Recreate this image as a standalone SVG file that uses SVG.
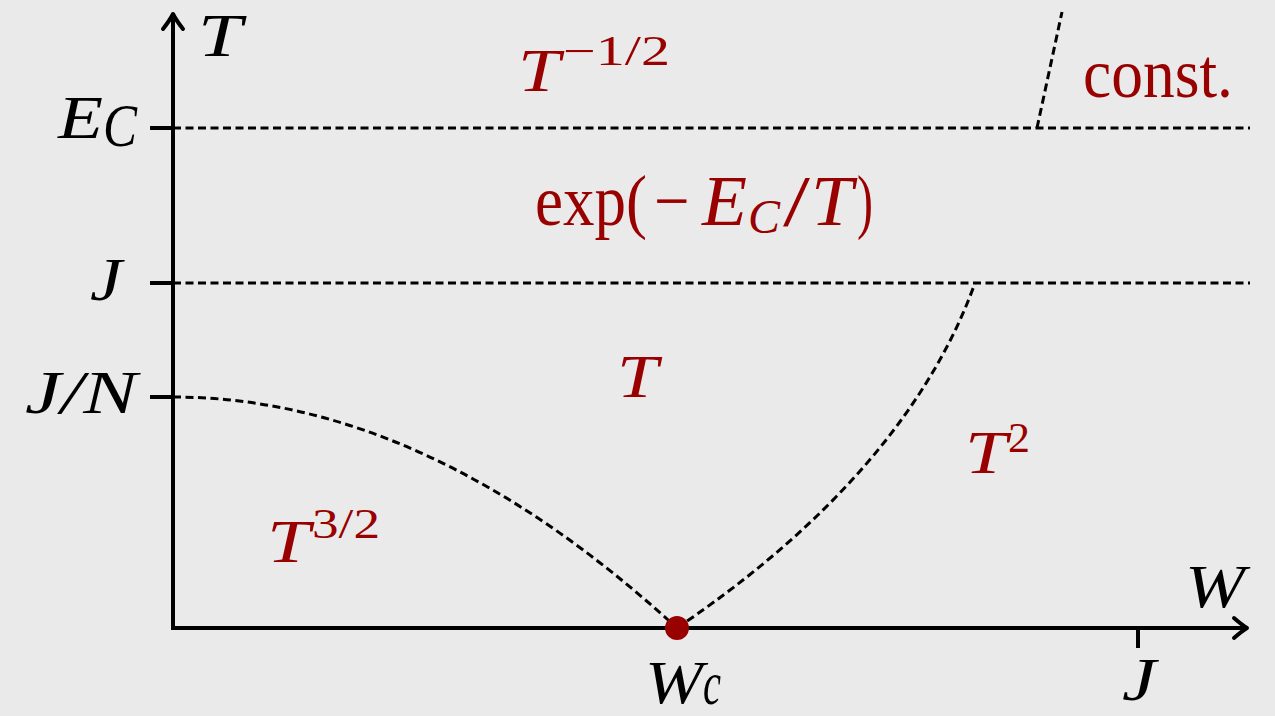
<svg xmlns="http://www.w3.org/2000/svg" width="1275" height="716" viewBox="0 0 1275 716">
<style>
.bg{fill:#eaeaea}
.axis{stroke:#000;stroke-width:4;fill:none}
.tip{stroke:#000;stroke-width:4;fill:none;stroke-linecap:round;stroke-linejoin:round}
.dash{stroke:#000;stroke-width:3;fill:none;stroke-dasharray:8 4.5}
.m{font-family:"Liberation Serif","Times New Roman",serif;font-style:italic;fill:#000;font-size:62px}
.r{font-family:"Liberation Serif","Times New Roman",serif;fill:#990000}
.it{font-style:italic}
.up{font-style:normal}
</style>
<rect class="bg" x="0" y="0" width="1275" height="716"/>
<g id="axes">
<line class="axis" x1="173" y1="630" x2="173" y2="16"/>
<path class="tip" d="M163,29 Q170,20 173,14 Q176,20 183,29"/>
<line class="axis" x1="171" y1="628" x2="1245" y2="628"/>
<path class="tip" d="M1234,618 Q1242,625 1247,628 Q1242,631 1234,638"/>
<line class="axis" x1="150" y1="128" x2="173" y2="128"/>
<line class="axis" x1="150" y1="283" x2="173" y2="283"/>
<line class="axis" x1="150" y1="397" x2="173" y2="397"/>
<line class="axis" x1="1138" y1="628" x2="1138" y2="648"/>
</g>
<g id="connectors">
<line class="dash" x1="173" y1="128" x2="1250" y2="128"/>
<line class="dash" x1="173" y1="283" x2="1250" y2="283"/>
<line class="dash" x1="1037" y1="128" x2="1062" y2="12"/>
<path class="dash" d="M173,397 Q425,397 677,628"/>
<path class="dash" d="M677,628 C770,565 915,450 975,283"/>
</g>
<g id="critical-point">
<circle cx="677" cy="628" r="12" fill="#990000"/>
</g>
<g id="axis-labels">
<text class="m" x="198" y="56" textLength="44" lengthAdjust="spacingAndGlyphs">T</text>
<text class="m" x="58" y="138" textLength="45" lengthAdjust="spacingAndGlyphs">E</text>
<text class="m" x="103" y="146" font-size="44" textLength="34" lengthAdjust="spacingAndGlyphs">C</text>
<text class="m" x="90" y="300" textLength="32" lengthAdjust="spacingAndGlyphs">J</text>
<text class="m" x="25" y="413" textLength="112" lengthAdjust="spacingAndGlyphs">J/N</text>
<text class="m" x="645" y="703" textLength="58" lengthAdjust="spacingAndGlyphs">W</text>
<text class="m" x="703" y="704" font-size="40" textLength="18" lengthAdjust="spacingAndGlyphs">c</text>
<text class="m" x="1122" y="700" textLength="34" lengthAdjust="spacingAndGlyphs">J</text>
<text class="m" x="1185" y="607" textLength="60" lengthAdjust="spacingAndGlyphs">W</text>
</g>
<g id="region-upper">
<text class="r it" x="518" y="91" font-size="62" textLength="42" lengthAdjust="spacingAndGlyphs">T</text>
<text class="r up" x="563" y="65" font-size="42" textLength="107" lengthAdjust="spacingAndGlyphs">−1/2</text>
</g>
<g id="region-const">
<text class="r up" x="1083" y="97" font-size="70" textLength="150" lengthAdjust="spacingAndGlyphs">const.</text>
</g>
<g id="region-exp">
<text class="r up" transform="translate(535 225) scale(0.875 1)" x="0" y="0" font-size="72">exp(<tspan x="136">−</tspan></text>
<text class="r it" x="702" y="225" font-size="72" textLength="45" lengthAdjust="spacingAndGlyphs">E</text>
<text class="r it" x="748" y="233" font-size="48" textLength="32" lengthAdjust="spacingAndGlyphs">C</text>
<text class="r up" x="783" y="225" font-size="72" textLength="27" lengthAdjust="spacingAndGlyphs">/</text>
<text class="r it" x="811" y="225" font-size="72" textLength="42" lengthAdjust="spacingAndGlyphs">T</text>
<text class="r up" x="857" y="225" font-size="72" textLength="16" lengthAdjust="spacingAndGlyphs">)</text>
</g>
<g id="region-linear">
<text class="r it" x="617" y="397" font-size="62" textLength="41" lengthAdjust="spacingAndGlyphs">T</text>
</g>
<g id="region-quadratic">
<text class="r it" x="965" y="473" font-size="62" textLength="42" lengthAdjust="spacingAndGlyphs">T</text>
<text class="r up" x="1008" y="452" font-size="42" textLength="22" lengthAdjust="spacingAndGlyphs">2</text>
</g>
<g id="region-three-halves">
<text class="r it" x="267" y="562" font-size="62" textLength="43" lengthAdjust="spacingAndGlyphs">T</text>
<text class="r up" x="312" y="538" font-size="42" textLength="68" lengthAdjust="spacingAndGlyphs">3/2</text>
</g>
</svg>
